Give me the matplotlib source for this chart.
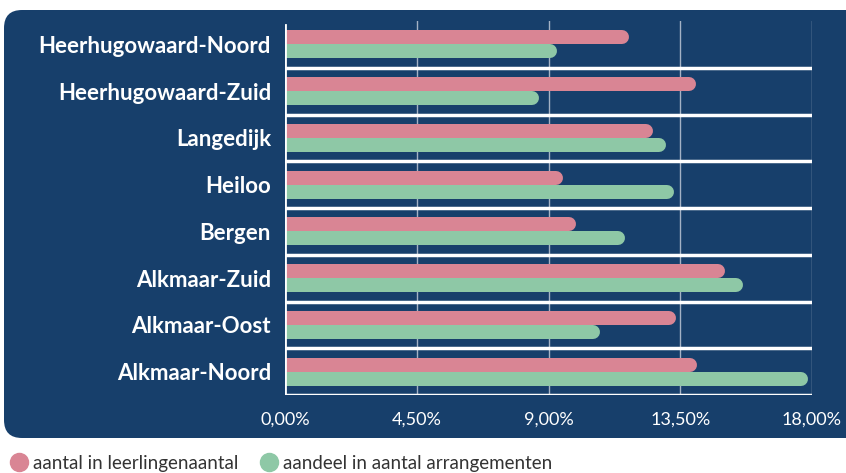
import matplotlib
matplotlib.use("Agg")
import matplotlib.pyplot as plt
from matplotlib.patches import FancyBboxPatch
from matplotlib.lines import Line2D
from matplotlib.transforms import IdentityTransform
import numpy as np

#==============================================================================
# Data
#==============================================================================
regios = ['Heerhugowaard-Noord', 'Heerhugowaard-Zuid', 'Langedijk', 'Heiloo',
          'Bergen', 'Alkmaar-Zuid', 'Alkmaar-Oost', 'Alkmaar-Noord']
leerlingen = [11.75, 14.05, 12.56, 9.51, 9.94, 15.03, 13.35, 14.06]
arrangementen = [9.28, 8.69, 13.00, 13.27, 11.60, 15.65, 10.76, 17.88]
ticks = [0, 4.5, 9, 13.5, 18]
tick_labels = ['0,00%', '4,50%', '9,00%', '13,50%', '18,00%']
legend_labels = ['aantal in leerlingenaantal', 'aandeel in aantal arrangementen']

navy = '#173f6b'
roze = '#d98594'
groen = '#8ec8a6'

plt.rcParams['font.family'] = ['Lato', 'DejaVu Sans']

fig = plt.figure(figsize=(8.46, 4.73), dpi=100)
fig.patch.set_facecolor('white')

# donker paneel met ronde hoeken (pixel coords)
panel = FancyBboxPatch((4, 35), 880, 428, boxstyle='round,pad=0,rounding_size=18',
                       transform=IdentityTransform(), facecolor=navy,
                       edgecolor='none', zorder=0)
fig.add_artist(panel)

ax_l, ax_b, ax_w, ax_h = 285 / 846, 1 - 395 / 473, 527 / 846, 374 / 473
ax = fig.add_axes([ax_l, ax_b, ax_w, ax_h])
ax.set_facecolor('none')
ax.set_xlim(0, 18)
ax.set_ylim(len(regios) - 0.5, -0.5)

# halve balkdikte in data-eenheden voor de ronde uiteinden
bar_px = 14
px_per_unit = fig.dpi * fig.get_figwidth() * ax_w / 18
r = (bar_px / 2) / px_per_unit
lw = bar_px * 72 / fig.dpi

y = np.arange(len(regios))
for i in range(len(regios)):
    ax.plot([0, leerlingen[i] - r], [y[i] - 0.15, y[i] - 0.15], color=roze,
            lw=lw, solid_capstyle='round', zorder=3)
    ax.plot([0, arrangementen[i] - r], [y[i] + 0.15, y[i] + 0.15], color=groen,
            lw=lw, solid_capstyle='round', zorder=3)

# rasterlijnen
for t in ticks[1:]:
    ax.axvline(t, color='#c8d0dc', lw=1, alpha=0.8, zorder=2)
# scheidingslijnen tussen regio's
for s in np.arange(0.5, len(regios), 1.0):
    ax.axhline(s, color='white', lw=2.5, zorder=4)
ax.axvline(0, ymin=0, ymax=0.99, color='white', lw=2, zorder=5)

for sp in ax.spines.values():
    sp.set_visible(False)

ax.set_yticks(y)
ax.set_yticklabels(regios, fontsize=16, fontweight='bold', color='white')
ax.set_xticks(ticks)
ax.set_xticklabels(tick_labels, fontsize=13, color='white')
ax.tick_params(axis='both', length=0)
ax.tick_params(axis='y', pad=10)
ax.tick_params(axis='x', pad=12)

handles = [Line2D([], [], marker='o', ls='none', markersize=13, color=roze),
           Line2D([], [], marker='o', ls='none', markersize=13, color=groen)]
fig.legend(handles, legend_labels, loc='center left', bbox_to_anchor=(0.003, 1 - 463 / 473),
           ncol=2, frameon=False, fontsize=13.5, handletextpad=0.25, columnspacing=1.1,
           borderaxespad=0, handlelength=1.0, labelcolor='#333333')

fig.savefig('out.png', dpi=100)
